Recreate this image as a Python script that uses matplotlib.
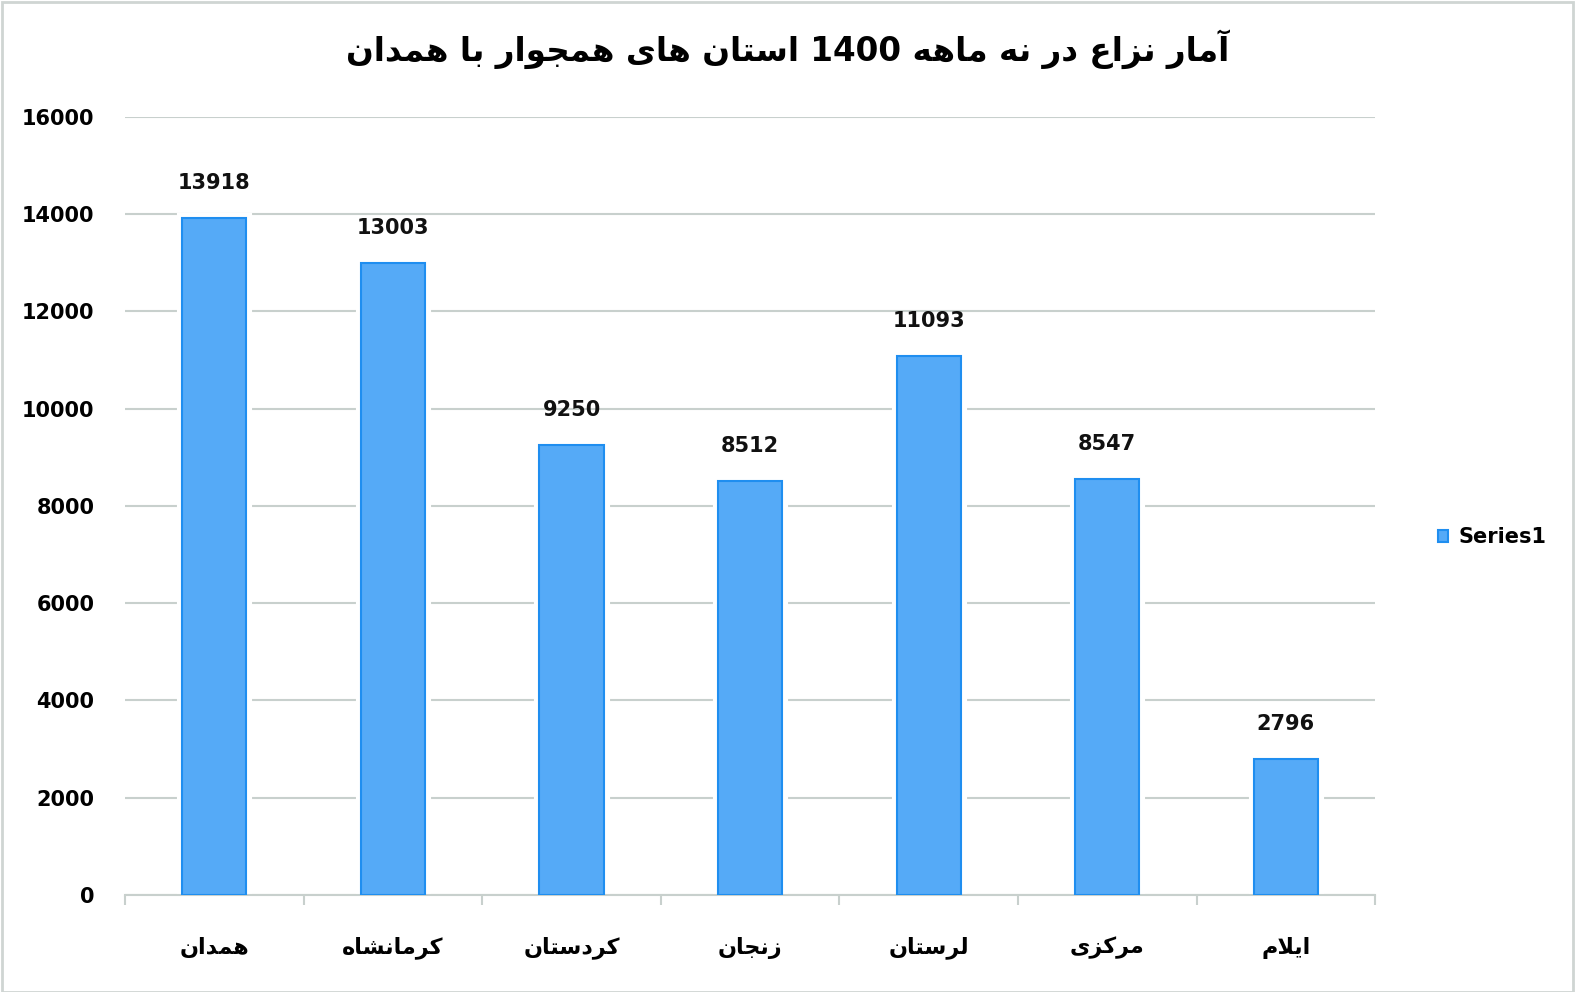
import re
import matplotlib
matplotlib.use('Agg')
import matplotlib.pyplot as plt
from matplotlib.patches import Rectangle

# data
provinces = ['همدان', 'کرمانشاه', 'کردستان', 'زنجان', 'لرستان', 'مرکزی', 'ایلام']
counts = [13918, 13003, 9250, 8512, 11093, 8547, 2796]
title = 'آمار نزاع در نه ماهه 1400 استان های همجوار با همدان'
series_name = 'Series1'
yticks = list(range(0, 16001, 2000))

# matplotlib has no arabic shaping, so pick presentation forms by hand
# (isolated, final, initial, medial)
FORMS = {
    'ا': ('\uFE8D', '\uFE8E', None, None),
    'آ': ('\uFE81', '\uFE82', None, None),
    'ب': ('\uFE8F', '\uFE90', '\uFE91', '\uFE92'),
    'ت': ('\uFE95', '\uFE96', '\uFE97', '\uFE98'),
    'ج': ('\uFE9D', '\uFE9E', '\uFE9F', '\uFEA0'),
    'د': ('\uFEA9', '\uFEAA', None, None),
    'ر': ('\uFEAD', '\uFEAE', None, None),
    'ز': ('\uFEAF', '\uFEB0', None, None),
    'س': ('\uFEB1', '\uFEB2', '\uFEB3', '\uFEB4'),
    'ش': ('\uFEB5', '\uFEB6', '\uFEB7', '\uFEB8'),
    'ع': ('\uFEC9', '\uFECA', '\uFECB', '\uFECC'),
    'ک': ('\uFB8E', '\uFB8F', '\uFB90', '\uFB91'),
    'ل': ('\uFEDD', '\uFEDE', '\uFEDF', '\uFEE0'),
    'م': ('\uFEE1', '\uFEE2', '\uFEE3', '\uFEE4'),
    'ن': ('\uFEE5', '\uFEE6', '\uFEE7', '\uFEE8'),
    'و': ('\uFEED', '\uFEEE', None, None),
    'ه': ('\uFEE9', '\uFEEA', '\uFEEB', '\uFEEC'),
    'ی': ('\uFBFC', '\uFBFD', '\uFBFE', '\uFBFF'),
}


def dual(c):
    return c in FORMS and FORMS[c][2] is not None


def shape(text):
    out = []
    i = 0
    while i < len(text):
        c = text[i]
        if c not in FORMS:
            out.append(c)
            i += 1
            continue
        prev = text[i - 1] if i > 0 else ''
        joins_prev = dual(prev)
        if c == 'ل' and i + 1 < len(text) and text[i + 1] == 'ا':
            out.append('\uFEFC' if joins_prev else '\uFEFB')
            i += 2
            continue
        nxt = text[i + 1] if i + 1 < len(text) else ''
        joins_next = dual(c) and nxt in FORMS
        iso, fin, ini, med = FORMS[c]
        if joins_prev and joins_next:
            out.append(med)
        elif joins_prev:
            out.append(fin)
        elif joins_next:
            out.append(ini)
        else:
            out.append(iso)
        i += 1
    s = ''.join(out)
    runs = re.findall(r'\d+|\D+', s)
    return ''.join(r if r.isdigit() else r[::-1] for r in runs[::-1])


plt.rcParams['font.family'] = ['DejaVu Sans']
plt.rcParams['font.weight'] = 'bold'

fig = plt.figure(figsize=(15.75, 9.92), dpi=100)
ax = fig.add_axes([0.0794, 0.0978, 0.7937, 0.7843])
fig.patches.append(Rectangle((0.001, 0.0), 0.998, 0.998, transform=fig.transFigure,
                             fill=False, edgecolor='#cfd5d3', linewidth=2))

x = list(range(len(provinces)))
# white halo so gridlines stop short of the bars
ax.bar(x, counts, width=0.36, color='white', edgecolor='white', linewidth=8, zorder=2)
bars = ax.bar(x, counts, width=0.36, color='#55aaf7', edgecolor='#1f8ef0',
              linewidth=1.5, zorder=3, label=series_name)
ax.bar_label(bars, labels=[str(v) for v in counts], padding=18, fontsize=15,
             fontweight='bold', color='#111111')

ax.set_xlim(-0.5, len(provinces) - 0.5)
ax.set_ylim(0, 16000)
ax.set_yticks(yticks)
ax.set_yticklabels([str(t) for t in yticks], fontsize=15, fontweight='bold')
ax.tick_params(axis='y', length=0, pad=22)
ax.yaxis.grid(True, color='#c8d0cd', linewidth=1.5, zorder=1)
ax.set_axisbelow(True)

ax.set_xticks(x)
ax.set_xticklabels([shape(p) for p in provinces], fontsize=16, fontweight='bold')
ax.tick_params(axis='x', length=0, pad=30)
ax.set_xticks([i - 0.5 for i in range(len(provinces) + 1)], minor=True)
ax.tick_params(axis='x', which='minor', length=7, color='#c8d0cd', width=1.5)

for side in ['top', 'right', 'left']:
    ax.spines[side].set_visible(False)
ax.spines['bottom'].set_color('#c8d0cd')
ax.spines['bottom'].set_linewidth(1.5)

fig.text(0.5, 0.95, shape(title), ha='center', va='center', fontsize=23.5,
         fontweight='bold')

ax.legend(loc='center left', bbox_to_anchor=(1.035, 0.46), frameon=False,
          fontsize=15, handlelength=0.5, handleheight=0.5, handletextpad=0.5)

fig.savefig('out.png', dpi=100)
